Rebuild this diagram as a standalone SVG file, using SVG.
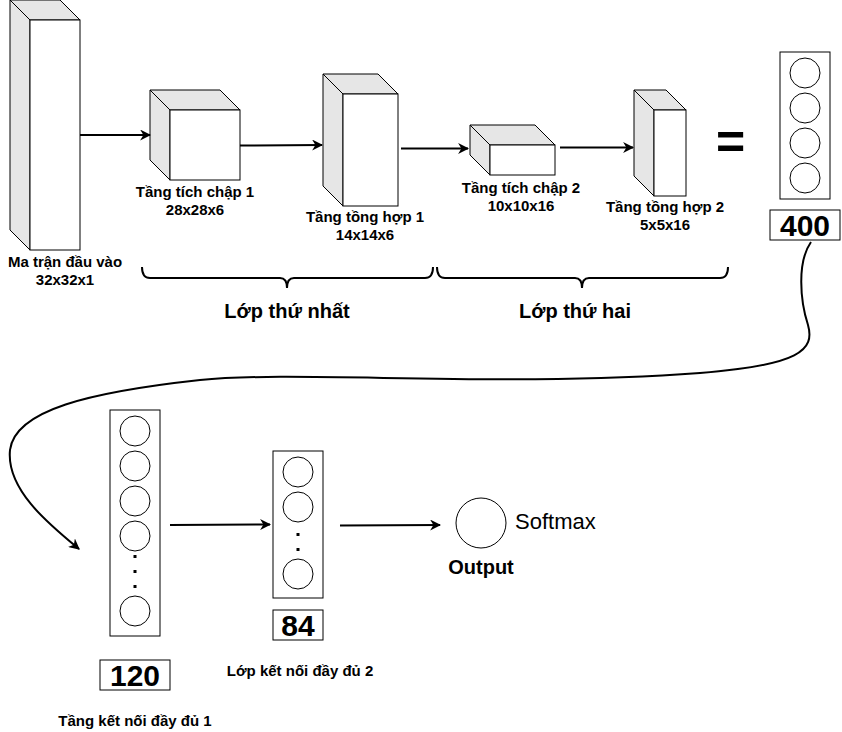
<svg xmlns="http://www.w3.org/2000/svg" width="842" height="732" viewBox="0 0 842 732">
<defs>
<marker id="ah" viewBox="0 0 10 10" refX="9" refY="5" markerWidth="11" markerHeight="11" markerUnits="userSpaceOnUse" orient="auto">
<path d="M0,0 L10,5 L0,10 L3,5 z" fill="#000"/>
</marker>
<style>
.side{fill:#e6e6e6;stroke:#000;stroke-width:1}
.face{fill:#fff;stroke:#000;stroke-width:1}
.lbl{font-family:"Liberation Sans",Arial,sans-serif;font-weight:bold;font-size:15px;text-anchor:middle;fill:#000}
.big{font-family:"Liberation Sans",Arial,sans-serif;font-weight:bold;font-size:20px;text-anchor:middle;fill:#000}
.num{font-family:"Liberation Sans",Arial,sans-serif;font-weight:bold;font-size:30px;text-anchor:middle;fill:#000}
.vec{fill:#fff;stroke:#000;stroke-width:1}
.neu{fill:#fff;stroke:#000;stroke-width:1}
.dot{fill:#000}
.conn{fill:none;stroke:#000;stroke-width:2;marker-end:url(#ah)}
.brace{fill:none;stroke:#000;stroke-width:2}
</style>
</defs>
<rect width="842" height="732" fill="#fff"/>

<g id="input">
<polygon class="side" points="10,0 30,20 30,250 10,230"/>
<polygon class="side" points="10,0 60,0 80,20 30,20"/>
<rect class="face" x="30" y="20" width="50" height="230"/>
<text class="lbl" x="65" y="267">Ma trận đầu vào</text>
<text class="lbl" x="65" y="285">32x32x1</text>
</g>

<g id="conv1">
<polygon class="side" points="150,90 170,110 170,180 150,160"/>
<polygon class="side" points="150,90 220,90 240,110 170,110"/>
<rect class="face" x="170" y="110" width="70" height="70"/>
<text class="lbl" x="195" y="197">Tầng tích chập 1</text>
<text class="lbl" x="195" y="215">28x28x6</text>
</g>

<g id="pool1">
<polygon class="side" points="323,74 343,94 343,206 323,186"/>
<polygon class="side" points="323,74 378,74 398,94 343,94"/>
<rect class="face" x="343" y="94" width="55" height="112"/>
<text class="lbl" x="365" y="222">Tầng tồng hợp 1</text>
<text class="lbl" x="365" y="240">14x14x6</text>
</g>

<g id="conv2">
<polygon class="side" points="470,125 490,145 490,175 470,155"/>
<polygon class="side" points="470,125 535,125 555,145 490,145"/>
<rect class="face" x="490" y="145" width="65" height="30"/>
<text class="lbl" x="521" y="193">Tầng tích chập 2</text>
<text class="lbl" x="521" y="211">10x10x16</text>
</g>

<g id="pool2">
<polygon class="side" points="634,90 654,110 654,196 634,176"/>
<polygon class="side" points="634,90 666,90 686,110 654,110"/>
<rect class="face" x="654" y="110" width="32" height="86"/>
<text class="lbl" x="665" y="212">Tầng tồng hợp 2</text>
<text class="lbl" x="665" y="230">5x5x16</text>
</g>

<g id="equals">
<text x="730.5" y="159" style="font-family:'Liberation Sans',Arial,sans-serif;font-weight:bold;font-size:50px;text-anchor:middle">=</text>
</g>

<g id="flat400">
<rect class="vec" x="780" y="52" width="50" height="147"/>
<circle class="neu" cx="805" cy="73" r="15"/>
<circle class="neu" cx="805" cy="108" r="15"/>
<circle class="neu" cx="805" cy="143" r="15"/>
<circle class="neu" cx="805" cy="178" r="15"/>
<rect class="vec" x="770" y="210" width="70" height="30"/>
<text class="num" x="805" y="236">400</text>
</g>

<g id="brace1">
<path class="brace" d="M142,267 Q142,278 150,278 L280,278 Q287,278 287,288 Q287,278 294,278 L425,278 Q433,278 433,267"/>
<text class="big" x="287" y="318">Lớp thứ nhất</text>
</g>

<g id="brace2">
<path class="brace" d="M437,267 Q437,278 445,278 L575,278 Q582,278 582,288 Q582,278 589,278 L720,278 Q728,278 728,267"/>
<text class="big" x="575" y="318">Lớp thứ hai</text>
</g>

<g id="fc1">
<rect class="vec" x="110" y="410" width="50" height="226"/>
<circle class="neu" cx="135" cy="431" r="15"/>
<circle class="neu" cx="135" cy="466" r="15"/>
<circle class="neu" cx="135" cy="501" r="15"/>
<circle class="neu" cx="135" cy="536" r="15"/>
<rect class="dot" x="133.5" y="555" width="3" height="3"/>
<rect class="dot" x="133.5" y="570" width="3" height="3"/>
<rect class="dot" x="133.5" y="585" width="3" height="3"/>
<circle class="neu" cx="135" cy="611" r="15"/>
<rect class="vec" x="100" y="660" width="70" height="30"/>
<text class="num" x="135" y="686">120</text>
<text class="lbl" x="135" y="726">Tầng kết nối đầy đủ 1</text>
</g>

<g id="fc2">
<rect class="vec" x="273" y="451" width="50" height="147"/>
<circle class="neu" cx="298" cy="472" r="15"/>
<circle class="neu" cx="298" cy="507" r="15"/>
<rect class="dot" x="296.5" y="533" width="3" height="3"/>
<rect class="dot" x="296.5" y="548" width="3" height="3"/>
<circle class="neu" cx="298" cy="574" r="15"/>
<rect class="vec" x="273" y="610" width="50" height="30"/>
<text class="num" x="298" y="636">84</text>
<text class="lbl" x="300" y="676">Lớp kết nối đầy đủ 2</text>
</g>

<g id="output">
<circle class="neu" cx="481" cy="523" r="25"/>
<text x="515" y="529" style="font-family:'Liberation Sans',Arial,sans-serif;font-size:22px;fill:#000">Softmax</text>
<text class="big" x="481" y="574">Output</text>
</g>

<g id="connectors">
<line class="conn" x1="80" y1="135" x2="150" y2="135"/>
<line class="conn" x1="240" y1="145.5" x2="322" y2="145"/>
<line class="conn" x1="401" y1="148.5" x2="468" y2="148.5"/>
<line class="conn" x1="560" y1="147.5" x2="633" y2="147.5"/>
<path class="conn" d="M811,242 C797,262 800,300 808,325 C815,350 800,365 700,373 C500,388 300,370 200,380 C90,392 15,410 10,450 C6,490 50,525 79,549"/>
<line class="conn" x1="170" y1="525" x2="270" y2="524.5"/>
<line class="conn" x1="340" y1="525.5" x2="440" y2="525"/>
</g>
</svg>
